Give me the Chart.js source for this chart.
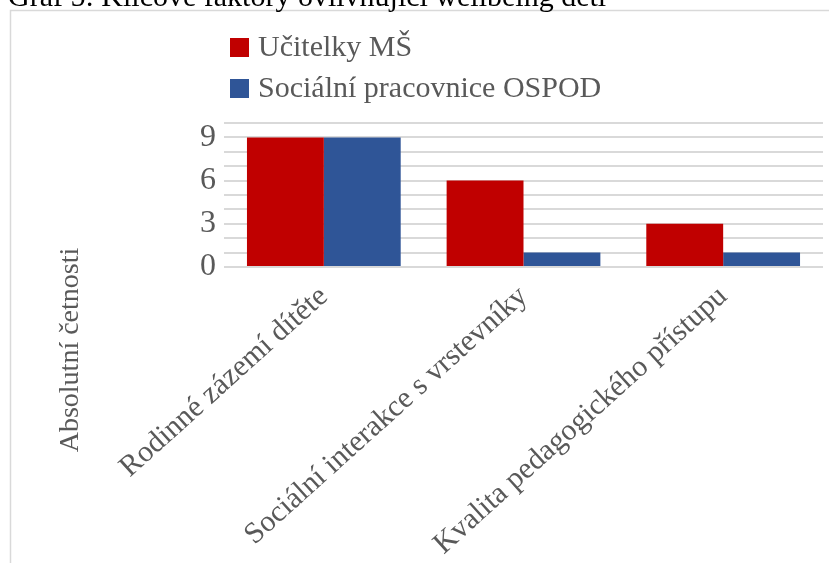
<!DOCTYPE html>
<html lang="cs">
<head>
<meta charset="utf-8">
<title>Graf 5</title>
<script src="https://cdn.jsdelivr.net/npm/chart.js@4/dist/chart.umd.min.js"></script>
<style>
  html, body { margin: 0; padding: 0; background: #fff; overflow: hidden; }
  #wrap { width: 829px; height: 563px; }
</style>
</head>
<body>
<div id="wrap"><canvas id="graf" width="829" height="563"></canvas></div>
<script>
// data
const kategorie = ["Rodinné zázemí dítěte", "Sociální interakce s vrstevníky", "Kvalita pedagogického přístupu"];
const ucitelky = [9, 6, 3];
const ospod = [9, 1, 1];
const nazvySerii = ["Učitelky MŠ", "Sociální pracovnice OSPOD"];
const barvy = ["#C00000", "#2F5597"];
const popiskyOsyY = [0, 3, 6, 9];

const nadpis = "Graf 5: Klíčové faktory ovlivňující wellbeing dětí";
const nazevOsyY = "Absolutní četnosti";

const pismo = '"Liberation Serif", "Times New Roman", serif';
const sedaText = "#595959";
const sedaMrizka = "#D9D9D9";

// frame, cut-off caption, vertical legend and axis title
const dekorace = {
    id: "dekorace",
    beforeDraw(chart) {
        const ctx = chart.ctx;
        ctx.save();
        ctx.fillStyle = "#fff";
        ctx.fillRect(0, 0, chart.width, chart.height);
        ctx.strokeStyle = sedaMrizka;
        ctx.lineWidth = 1.5;
        ctx.strokeRect(10.5, 10.5, chart.width + 20, chart.height + 20);
        ctx.fillStyle = "#000";
        ctx.font = "30px " + pismo;
        ctx.textBaseline = "alphabetic";
        ctx.textAlign = "left";
        ctx.fillText(nadpis, 8, 6);
        ctx.restore();
    },
    afterDraw(chart) {
        const ctx = chart.ctx;
        ctx.save();
        ctx.font = "30px " + pismo;
        ctx.textBaseline = "middle";
        ctx.textAlign = "left";
        chart.data.datasets.forEach((ds, i) => {
            const y = 48 + i * 41;
            ctx.fillStyle = ds.backgroundColor;
            ctx.fillRect(230, y - 10, 19, 19);
            ctx.fillStyle = sedaText;
            ctx.fillText(ds.label, 258, y);
        });
        ctx.font = "28px " + pismo;
        ctx.translate(71, 350);
        ctx.rotate(-Math.PI / 2);
        ctx.textAlign = "center";
        ctx.fillText(nazevOsyY, 0, 0);
        ctx.restore();
    }
};

new Chart(document.getElementById("graf"), {
    type: "bar",
    data: {
        labels: kategorie,
        datasets: [
            { label: nazvySerii[0], data: ucitelky, backgroundColor: barvy[0] },
            { label: nazvySerii[1], data: ospod, backgroundColor: barvy[1] }
        ]
    },
    options: {
        responsive: false,
        animation: false,
        events: [],
        categoryPercentage: 0.77,
        barPercentage: 1.0,
        layout: { padding: { top: 123, right: 6, left: 0, bottom: 0 } },
        plugins: {
            legend: { display: false },
            tooltip: { enabled: false }
        },
        scales: {
            x: {
                grid: { display: false },
                border: { display: false },
                ticks: {
                    color: sedaText,
                    font: { family: pismo, size: 30 },
                    minRotation: 42,
                    maxRotation: 42,
                    autoSkip: false,
                    padding: 4
                },
                afterFit(scale) { scale.height = 296; }
            },
            y: {
                min: 0,
                max: 10,
                border: { display: false },
                grid: { color: sedaMrizka, lineWidth: 2, drawTicks: false },
                ticks: {
                    stepSize: 1,
                    autoSkip: false,
                    color: sedaText,
                    font: { family: pismo, size: 32 },
                    padding: 8,
                    callback: (v) => popiskyOsyY.includes(v) ? String(v) : ""
                },
                afterFit(scale) { scale.width = 224; }
            }
        }
    },
    plugins: [dekorace]
});
</script>
</body>
</html>
